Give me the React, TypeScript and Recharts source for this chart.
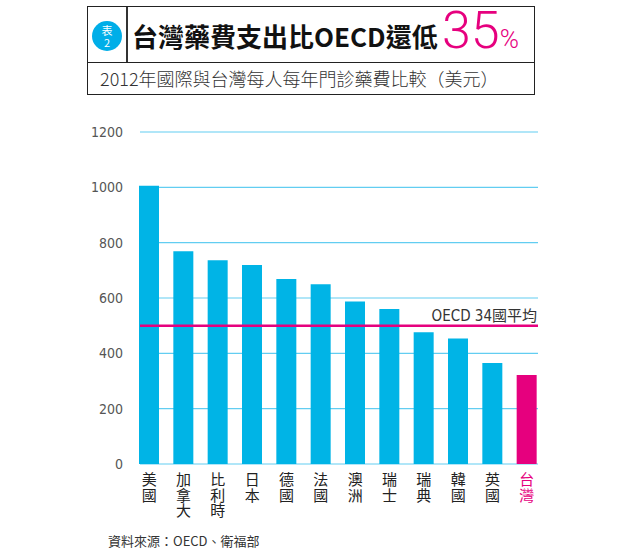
import { Bar, BarChart, CartesianGrid, Cell, ReferenceLine, XAxis, YAxis } from 'recharts';

const countries = ['美國', '加拿大', '比利時', '日本', '德國', '法國', '澳洲', '瑞士', '瑞典', '韓國', '英國', '台灣'];
const drugSpending = [1006, 769, 736, 719, 669, 650, 587, 560, 476, 454, 365, 322];
const yTicks = [0, 200, 400, 600, 800, 1000, 1200];
const oecdAverage = 500;
const highlight = '台灣';

const CYAN = '#00b4e6';
const PINK = '#e6007e';
const CJK = "'Noto Sans CJK TC', 'Noto Sans', sans-serif";
const NARROW = "'Liberation Sans Narrow', 'DejaVu Sans Condensed', sans-serif";

const data = countries.map((name, i) => ({ name, value: drugSpending[i] }));

function CharTick(props: any) {
  const { x, y, payload } = props;
  const chars = Array.from(String(payload.value));
  const color = payload.value === highlight ? PINK : '#222';
  return (
    <text x={x} y={y} textAnchor="middle" fill={color} fontSize={15} fontFamily={CJK}>
      {chars.map((c, i) => (
        <tspan key={i} x={x} dy={i === 0 ? 13 : 15.5}>{c}</tspan>
      ))}
    </text>
  );
}

function AvgLabel(props: any) {
  const vb = props.viewBox || {};
  return (
    <text x={vb.x + vb.width - 1} y={vb.y - 5} textAnchor="end" fill="#333" fontSize={15}>
      <tspan fontFamily={NARROW}>OECD 34</tspan>
      <tspan fontFamily={CJK}>國平均</tspan>
    </text>
  );
}

export default function App() {
  return (
    <div style={{ position: 'absolute', left: 0, top: 0, width: 620, height: 550, background: '#fff' }}>
      {/* title box */}
      <div style={{ position: 'absolute', left: 87, top: 6, width: 448, height: 89, border: '1.5px solid #222', boxSizing: 'border-box' }}>
        <div style={{ position: 'absolute', left: 0, right: 0, top: 55, borderTop: '1.5px solid #222' }} />
        <div style={{ position: 'absolute', left: 38, top: 0, height: 55, borderLeft: '2.5px solid #333' }} />
        <div style={{
          position: 'absolute', left: 4, top: 14, width: 30, height: 30, borderRadius: 15, background: '#00aee8',
          color: '#fff', fontFamily: CJK, fontSize: 11, lineHeight: '12px', textAlign: 'center', paddingTop: 3, boxSizing: 'border-box',
        }}>表<br />2</div>
        <div style={{ position: 'absolute', left: 44, top: 14, fontFamily: CJK, fontWeight: 700, fontSize: 26, lineHeight: '30px', color: '#111', whiteSpace: 'nowrap' }}>
          台灣藥費支出比OECD還低
        </div>
        <div style={{ position: 'absolute', left: 354, top: -6, fontFamily: "Roboto, 'Noto Sans', sans-serif", fontWeight: 300, color: PINK, whiteSpace: 'nowrap', lineHeight: '60px' }}>
          <span style={{ fontSize: 52 }}>35</span><span style={{ fontSize: 26 }}>%</span>
        </div>
        <div style={{ position: 'absolute', left: 12, top: 60, fontFamily: CJK, fontWeight: 300, fontSize: 18, lineHeight: '22px', color: '#333', whiteSpace: 'nowrap' }}>
          2012年國際與台灣每人每年門診藥費比較（美元）
        </div>
      </div>

      <div style={{ position: 'absolute', left: 0, top: 0 }}>
        <BarChart width={620} height={550} data={data} margin={{ top: 132, right: 82, bottom: 56, left: 80 }} barSize={20}>
          <CartesianGrid vertical={false} stroke="#62cdf1" strokeWidth={1.2} />
          <XAxis dataKey="name" height={30} interval={0} tickLine={false} axisLine={false} padding={{ left: -8, right: -6 }} tick={<CharTick />} />
          <YAxis width={60} domain={[0, 1200]} ticks={yTicks} tickLine={false} axisLine={false} tickMargin={11}
            tick={{ fill: '#555', fontSize: 14, fontFamily: NARROW }} />
          <Bar dataKey="value" isAnimationActive={false}>
            {data.map((d) => (
              <Cell key={d.name} fill={d.name === highlight ? PINK : CYAN} />
            ))}
          </Bar>
          <ReferenceLine y={oecdAverage} stroke={PINK} strokeWidth={2.5} label={<AvgLabel />} />
        </BarChart>
      </div>

      <div style={{ position: 'absolute', left: 108, top: 531, fontFamily: CJK, fontSize: 13, color: '#333', whiteSpace: 'nowrap' }}>
        資料來源：OECD、衛福部
      </div>
    </div>
  );
}
